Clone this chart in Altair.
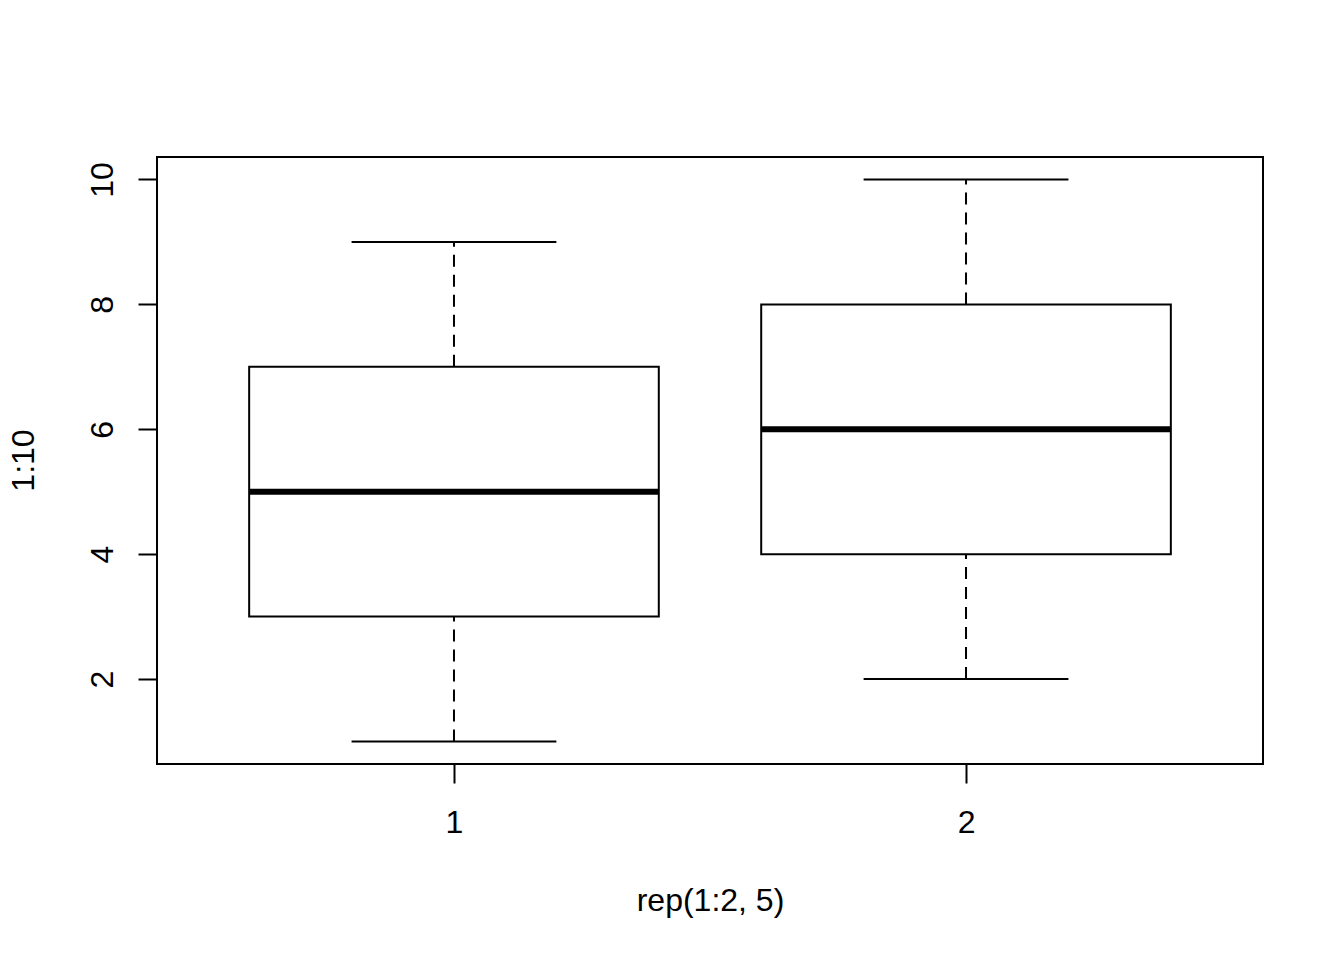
import altair as alt
import pandas as pd

groups = [1, 2]
whisker_low = [1, 2]
q1 = [3, 4]
medians = [5, 6]
q3 = [7, 8]
whisker_high = [9, 10]
y_ticks = [2, 4, 6, 8, 10]
x_ticks = [1, 2]

df = pd.DataFrame({
    "g": groups, "lo": whisker_low, "q1": q1, "med": medians,
    "q3": q3, "hi": whisker_high,
})

FONT = "Liberation Sans"
xs = alt.Scale(domain=[0.42, 2.58], nice=False, zero=False)
ys = alt.Scale(domain=[0.64, 10.36], nice=False, zero=False)

base = alt.Chart(df).transform_calculate(
    bl="datum.g - 0.4", br="datum.g + 0.4",
    cl="datum.g - 0.2", cr="datum.g + 0.2",
)

xaxis = alt.Axis(values=x_ticks, format="d", domain=False, grid=False, tickSize=19, tickWidth=2,
                 tickColor="black", labelFont=FONT, labelFontSize=32, labelColor="black",
                 labelBaseline="alphabetic", labelPadding=49, title="rep(1:2, 5)",
                 titleFont=FONT, titleFontSize=32, titleFontWeight="normal", titleColor="black",
                 titleBaseline="alphabetic", titleX=553, titleY=146, titleAnchor="middle", titleAlign="center")
yaxis = alt.Axis(values=y_ticks, format="d", domain=False, grid=False, tickSize=19, tickWidth=2,
                 tickColor="black", labelFont=FONT, labelFontSize=32, labelColor="black",
                 labelAngle=270, labelAlign="center", labelBaseline="alphabetic", labelPadding=26,
                 title="1:10", titleFont=FONT, titleFontSize=32, titleFontWeight="normal",
                 titleColor="black", titleAngle=270, titleBaseline="alphabetic", titleAlign="center",
                 titleX=-124, titleY=303)

whisk_up = base.mark_rule(color="black", strokeWidth=2, strokeDash=[12, 8]).encode(
    x=alt.X("g:Q", scale=xs, axis=xaxis),
    y=alt.Y("q3:Q", scale=ys, axis=yaxis),
    y2="hi:Q",
)
whisk_dn = base.mark_rule(color="black", strokeWidth=2, strokeDash=[12, 8]).encode(
    x=alt.X("g:Q", scale=xs), y=alt.Y("lo:Q", scale=ys), y2="q1:Q",
)
box = base.mark_rect(fill="white", stroke="black", strokeWidth=2).encode(
    x=alt.X("bl:Q", scale=xs), x2="br:Q",
    y=alt.Y("q1:Q", scale=ys), y2="q3:Q",
)
cap_hi = base.mark_rule(color="black", strokeWidth=2).encode(
    x=alt.X("cl:Q", scale=xs), x2="cr:Q", y=alt.Y("hi:Q", scale=ys),
)
cap_lo = base.mark_rule(color="black", strokeWidth=2).encode(
    x=alt.X("cl:Q", scale=xs), x2="cr:Q", y=alt.Y("lo:Q", scale=ys),
)
med = base.mark_rule(color="black", strokeWidth=6).encode(
    x=alt.X("bl:Q", scale=xs), x2="br:Q", y=alt.Y("med:Q", scale=ys),
)

chart = alt.layer(whisk_up, whisk_dn, box, cap_hi, cap_lo, med).properties(
    width=1106, height=607,
    autosize=alt.AutoSizeParams(type="none"),
    padding={"left": 149, "top": 149, "right": 65, "bottom": 180},
    background="white",
).configure_view(stroke="black", strokeWidth=2)

chart.save("out.html", embed_options={"renderer": "svg", "actions": False})
